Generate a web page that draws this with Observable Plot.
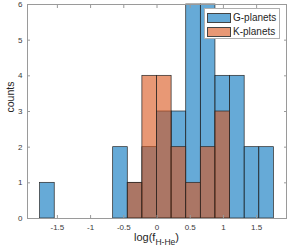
<!DOCTYPE html>
<html>
<head>
<meta charset="utf-8">
<script src="https://cdn.jsdelivr.net/npm/d3@7"></script>
<script src="https://cdn.jsdelivr.net/npm/@observablehq/plot@0.6"></script>
<style>
  html, body { margin: 0; padding: 0; background: #fff; }
  #wrap { position: relative; width: 299px; height: 250px; font-family: "Liberation Sans", Arial, sans-serif; }
  #legend { position: absolute; left: 204px; top: 8px; width: 76px; height: 31px; border: 1px solid #b0b0b0; background: #fff; box-sizing: border-box; }
  .item { position: absolute; left: 2px; height: 11px; display: flex; align-items: center; font-size: 10px; color: #262626; white-space: nowrap; }
  .sw { width: 24px; height: 10px; box-sizing: border-box; border: 0.6px solid #444; margin-right: 2px; flex: none; }
</style>
</head>
<body>
<div id="wrap"></div>
<script>
// Bin edges (log f_H-He) and counts per bin
const binEdges = [-1.76, -1.54, -1.32, -1.1, -0.88, -0.66, -0.44, -0.22, 0, 0.22, 0.44, 0.66, 0.88, 1.1, 1.32, 1.54, 1.76];
const gCounts = [1, 0, 0, 0, 0, 2, 1, 2, 3, 3, 6, 6, 4, 4, 2, 2];
const kCounts = [0, 0, 0, 0, 0, 0, 1, 4, 4, 2, 1, 2, 3, 0, 0, 0];
const seriesNames = ["G-planets", "K-planets"];
const seriesColors = ["#0072BD", "#D95319"];
const xTicks = [-1.5, -1, -0.5, 0, 0.5, 1, 1.5];
const yTicks = [0, 1, 2, 3, 4, 5, 6];

const toRows = counts => counts.map((c, i) => ({x1: binEdges[i], x2: binEdges[i + 1], count: c})).filter(d => d.count > 0);
const gRows = toRows(gCounts);
const kRows = toRows(kCounts);

const fmt = d => String(d);
const axisColor = "#9a9a9a";

const chart = Plot.plot({
  width: 299,
  height: 250,
  marginLeft: 27,
  marginRight: 13,
  marginTop: 4,
  marginBottom: 32,
  x: {domain: [-1.95, 1.95]},
  y: {domain: [0, 6]},
  style: {fontFamily: "Liberation Sans, Arial, sans-serif", fontSize: "8px", color: "#3a3a3a", background: "transparent"},
  marks: [
    Plot.rect(gRows, {x1: "x1", x2: "x2", y1: 0, y2: "count", fill: seriesColors[0], fillOpacity: 0.6, stroke: "#262626", strokeWidth: 0.7}),
    Plot.rect(kRows, {x1: "x1", x2: "x2", y1: 0, y2: "count", fill: seriesColors[1], fillOpacity: 0.6, stroke: "#262626", strokeWidth: 0.7}),
    Plot.frame({stroke: axisColor, strokeWidth: 1}),
    Plot.axisX(xTicks, {anchor: "bottom", tickSize: 0, tickPadding: 6, tickFormat: fmt, label: null}),
    Plot.axisX(xTicks, {anchor: "bottom", tickSize: -3, text: null, stroke: axisColor, label: null}),
    Plot.axisX(xTicks, {anchor: "top", tickSize: -3, text: null, stroke: axisColor, label: null}),
    Plot.axisY(yTicks, {anchor: "left", tickSize: 0, tickPadding: 5, tickFormat: fmt, label: null}),
    Plot.axisY(yTicks, {anchor: "left", tickSize: -3, text: null, stroke: axisColor, label: null}),
    Plot.axisY(yTicks, {anchor: "right", tickSize: -3, text: null, stroke: axisColor, label: null})
  ]
});

const wrap = document.getElementById("wrap");
wrap.appendChild(chart);

const svg = d3.select(chart);
// x label with subscript
const xl = svg.append("text")
  .attr("x", 156.5).attr("y", 241)
  .attr("text-anchor", "middle")
  .attr("font-family", "Liberation Sans, Arial, sans-serif")
  .attr("font-size", 11)
  .attr("fill", "#262626");
xl.append("tspan").text("log(f");
xl.append("tspan").attr("font-size", 8.5).attr("dy", 4).text("H-He");
xl.append("tspan").attr("dy", -4).text(")");

// y label
svg.append("text")
  .attr("transform", "translate(14,97) rotate(-90)")
  .attr("text-anchor", "middle")
  .attr("font-family", "Liberation Sans, Arial, sans-serif")
  .attr("font-size", 10.5)
  .attr("fill", "#262626")
  .text("counts");

// legend
const legend = document.createElement("div");
legend.id = "legend";
seriesNames.forEach((name, i) => {
  const item = document.createElement("div");
  item.className = "item";
  item.style.top = (3 + i * 14) + "px";
  const sw = document.createElement("div");
  sw.className = "sw";
  sw.style.background = d3.interpolateRgb("#ffffff", seriesColors[i])(0.6);
  const label = document.createElement("span");
  label.textContent = name;
  item.appendChild(sw);
  item.appendChild(label);
  legend.appendChild(item);
});
wrap.appendChild(legend);
</script>
</body>
</html>
